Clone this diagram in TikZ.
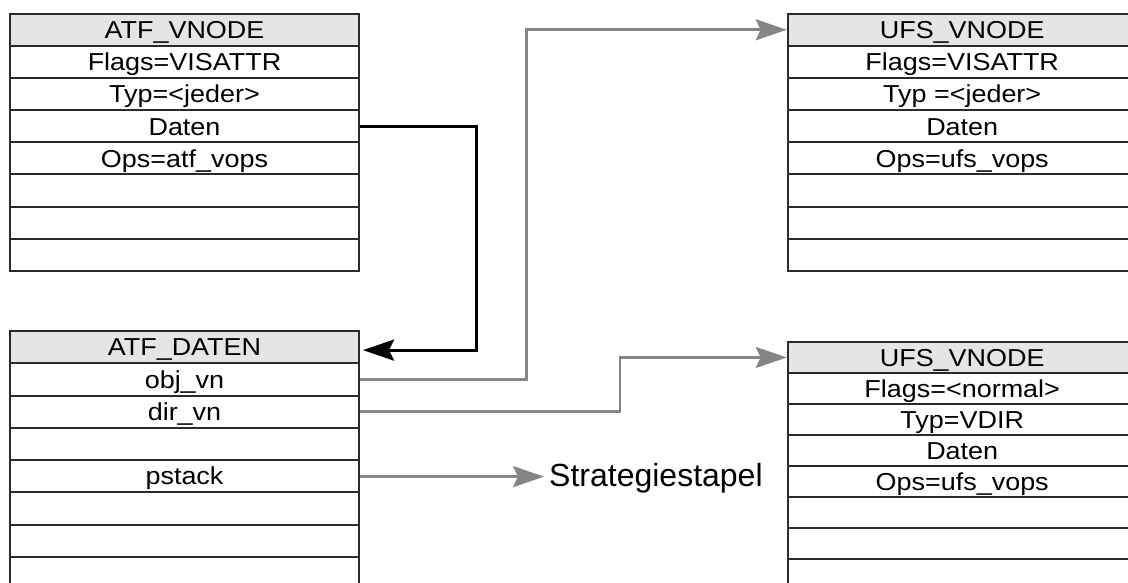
\documentclass[tikz,border=0pt]{standalone}
\usepackage{fontspec}
\setmainfont{Liberation Sans}
\newfontfamily\cellfont[FakeStretch=1.1]{Liberation Sans}
\usetikzlibrary{arrows.meta}
\definecolor{rule}{HTML}{2A2A2A}
\definecolor{headfill}{HTML}{E5E5E5}
\definecolor{linkgray}{HTML}{858585}
\begin{document}
\begin{tikzpicture}[x=1pt,y=-1pt,
  cell/.style={draw=rule, line width=2pt, rectangle, anchor=north west,
    inner sep=0pt, minimum width=349pt,
    font=\cellfont\fontsize{24.5}{29}\selectfont,
    text height=17.5pt, text depth=0pt},
  head/.style={cell, fill=headfill},
  tip/.style={-{Stealth[length=31pt,width=21pt,inset=5pt]}},
  link/.style={draw=linkgray, line width=2.6pt, tip},
  back/.style={draw=black, line width=3pt, tip},
  label/.style={anchor=west, inner xsep=5pt, inner ysep=0pt,
    font=\fontsize{32}{38}\selectfont, text height=23pt, text depth=4pt}
]
\useasboundingbox (0,0) rectangle (1128,583);

% ATF_VNODE
\node[head, minimum height=32.16pt] (av0) at (9,12.7) {ATF\_VNODE};
\foreach \txt [count=\i] in {Flags=VISATTR,Typ=<jeder>,Daten,Ops=atf\_vops,{},{},{}}
  \node[cell, minimum height=32.16pt] (av\i) at (9,12.7+\i*32.16) {\txt};

% ATF_DATEN
\node[head, minimum height=32.25pt] (ad0) at (9,330) {ATF\_DATEN};
\foreach \txt [count=\i] in {obj\_vn,dir\_vn,{},pstack,{},{},{}}
  \node[cell, minimum height=32.25pt] (ad\i) at (9,330+\i*32.25) {\txt};

% UFS_VNODE (upper)
\node[head, minimum height=32.16pt] (uv0) at (786.7,12.7) {UFS\_VNODE};
\foreach \txt [count=\i] in {Flags=VISATTR,Typ =<jeder>,Daten,Ops=ufs\_vops,{},{},{}}
  \node[cell, minimum height=32.16pt] (uv\i) at (786.7,12.7+\i*32.16) {\txt};

% UFS_VNODE (lower)
\node[head, minimum height=30.95pt] (uw0) at (786.7,341) {UFS\_VNODE};
\foreach \txt [count=\i] in {Flags=<normal>,Typ=VDIR,Daten,Ops=ufs\_vops,{},{},{}}
  \node[cell, minimum height=30.95pt] (uw\i) at (786.7,341+\i*30.95) {\txt};

% routing columns
\coordinate (colBack) at (476,0);
\coordinate (colObj) at (526.7,0);
\coordinate (colDir) at (620,0);
\coordinate (colStack) at (544,0);
\coordinate (tipBack) at ([xshift=3pt,yshift=-3pt]ad0.east);
\coordinate (stackOut) at ([yshift=-0.5pt]ad4.east);

\node[label] (strat) at (stackOut -| colStack) {Strategiestapel};

% pointers
\draw[back] (av3.east) -| (colBack |- tipBack) -- (tipBack);
\draw[link] (ad1.east) -| (colObj |- uv0.west) -- (uv0.west);
\draw[link] (ad2.east) -| (colDir |- uw0.west) -- (uw0.west);
\draw[link] (stackOut) -- (strat.west);
\end{tikzpicture}
\end{document}
